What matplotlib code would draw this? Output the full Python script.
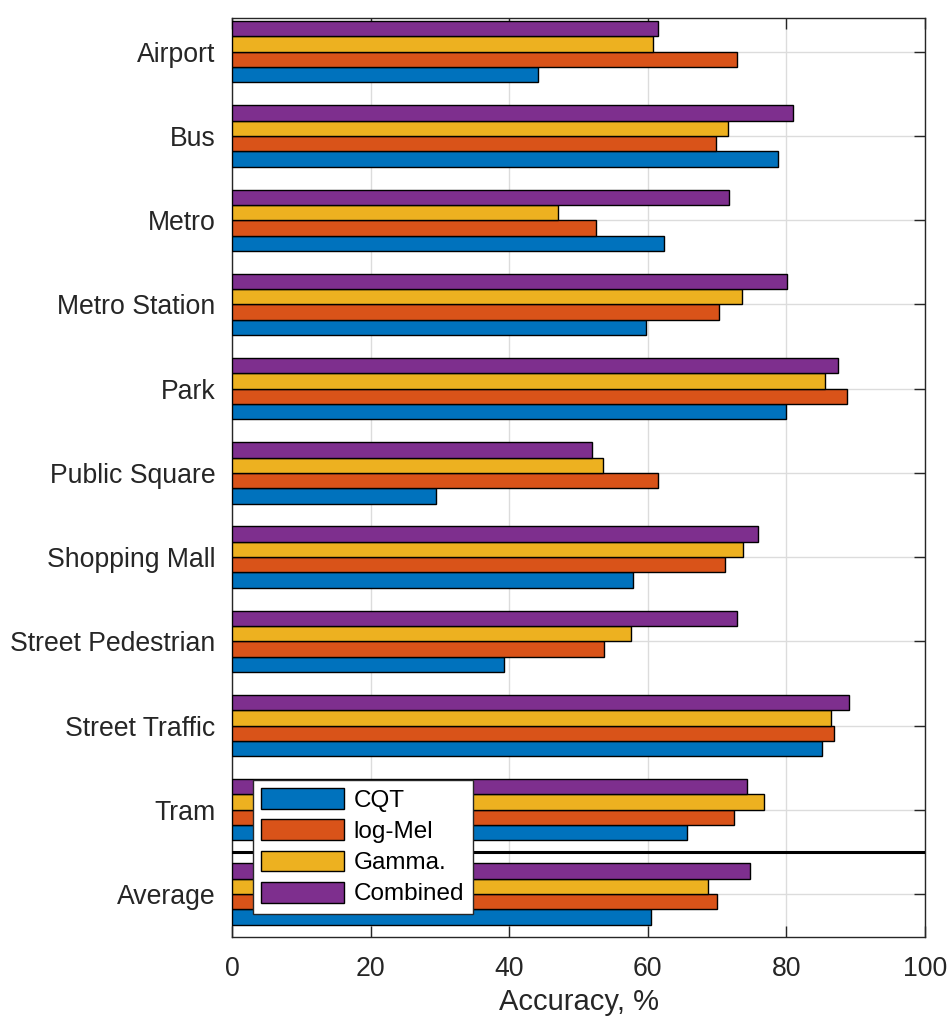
import numpy as np
import matplotlib.pyplot as plt

plt.rcParams['font.family'] = ['Liberation Sans', 'DejaVu Sans']

categories = ['Airport', 'Bus', 'Metro', 'Metro Station', 'Park', 'Public Square',
              'Shopping Mall', 'Street Pedestrian', 'Street Traffic', 'Tram', 'Average']
cqt      = [44.2, 78.8, 62.3, 59.7, 79.9, 29.4, 57.8, 39.2, 85.1, 65.7, 60.4]
log_mel  = [72.8, 69.8, 52.5, 70.2, 88.8, 61.5, 71.1, 53.7, 86.9, 72.4, 70.0]
gamma    = [60.8, 71.6, 47.1, 73.6, 85.6, 53.6, 73.7, 57.6, 86.4, 76.8, 68.7]
combined = [61.5, 81.0, 71.7, 80.1, 87.4, 52.0, 75.9, 72.9, 89.0, 74.3, 74.7]

series = [('CQT', cqt, '#0072BD'), ('log-Mel', log_mel, '#D95319'),
          ('Gamma.', gamma, '#EDB120'), ('Combined', combined, '#7E2F8E')]

fig = plt.figure(figsize=(9.51, 10.19), dpi=100)
ax = fig.add_axes([0.244, 0.0805, 0.7287, 0.9018])

y = np.arange(len(categories))
h = 0.182
offsets = [1.5 * h, 0.5 * h, -0.5 * h, -1.5 * h]
for (name, vals, col), off in zip(series, offsets):
    ax.barh(y + off, vals, height=h, color=col, edgecolor='black', linewidth=1.0,
            label=name, zorder=3)

# separator between classes and average
ax.axhline(9.5, color='black', linewidth=2.2, zorder=4)

ax.set_xlim(0, 100)
ax.set_ylim(10.51, -0.40)
ax.set_xticks([0, 20, 40, 60, 80, 100])
ax.set_yticks(y)
ax.set_yticklabels(categories)
ax.grid(True, color='#dcdcdc', linewidth=1.0, zorder=0)
ax.set_axisbelow(True)
ax.tick_params(direction='in', top=True, right=True, length=8, width=1.0,
               labelsize=19.2, colors='#262626')
ax.tick_params(axis='x', pad=14)
ax.tick_params(axis='y', pad=12)
for s in ax.spines.values():
    s.set_color('#262626')
    s.set_linewidth(1.0)
ax.set_xlabel('Accuracy, %', fontsize=21, color='#262626', labelpad=4)

leg = ax.legend(loc='lower left', bbox_to_anchor=(0.030, 0.025), borderaxespad=0,
                fontsize=17.5, handlelength=3.4, handleheight=0.95, handletextpad=0.4,
                labelspacing=0.3, borderpad=0.35, fancybox=False, framealpha=1,
                edgecolor='#262626')
leg.get_frame().set_linewidth(1.0)
leg.set_zorder(5)

fig.savefig('out.png', dpi=100)
